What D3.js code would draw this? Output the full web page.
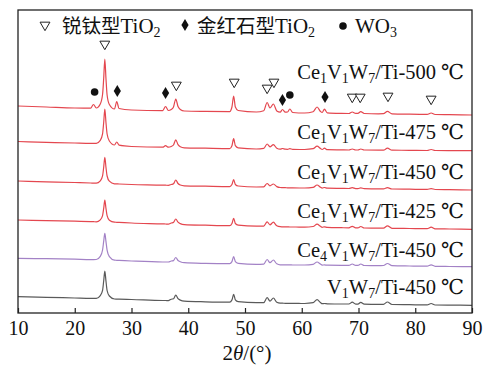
<!DOCTYPE html>
<html>
<head>
<meta charset="utf-8">
<script src="https://cdn.jsdelivr.net/npm/d3@7"></script>
<style>
  body { margin: 0; background: #fff; }
</style>
</head>
<body>
<div id="chart"></div>
<script>
// 2theta grid (degrees) where intensities were read
const twoTheta = [10, 15, 20, 22.8, 23.3, 23.8, 24.5, 24.9, 25.1, 25.3, 25.5, 25.7, 26.1, 27.0, 27.4, 27.8,
  30, 35.5, 36.0, 36.5, 37.0, 37.4, 37.8, 38.2, 38.6, 39.3, 43, 47.3, 47.7, 48.0, 48.3, 48.8,
  52, 53.3, 53.9, 54.4, 55.0, 55.6, 56.2, 56.6, 57.1, 57.5, 57.9, 58.4, 60.5, 62.0, 62.7, 63.3,
  63.6, 64.0, 64.5, 67, 68.3, 68.9, 69.5, 69.9, 70.4, 71.0, 73.5, 74.4, 75.1, 75.9, 79, 82.1,
  82.8, 83.5, 86, 90]

// stacked intensities (a.u.)
const ce1_500 = [207, 206, 205, 204.8, 208.5, 205, 209, 218.5, 234.5, 254, 234.5, 218, 208.5, 204, 211.5, 204.5,
  203, 202.4, 206.5, 202.5, 203.5, 206, 214, 206.5, 203.5, 202, 201.6, 201.4, 206, 217, 206, 202.5,
  201, 202.3, 210.5, 205, 209, 202, 200.8, 203.5, 200.8, 201, 204, 200.5, 200, 201.3, 206, 201.5,
  200.5, 203.8, 200.1, 199.6, 199.5, 201, 199.6, 199.6, 201.4, 199.5, 199.2, 199.3, 201.6, 199.2, 198.8, 198.6,
  200, 198.5, 198.3, 198]
const ce1_475 = [171.5, 170.7, 170, 169.7, 169.7, 169.7, 172.6, 179.2, 190.5, 204, 190.5, 179, 172, 168, 171, 167.8,
  166.5, 165.8, 167.3, 165.8, 166.5, 168, 173.2, 168.3, 166.3, 165.2, 164.8, 164.4, 167.3, 174.3, 167.3, 165.1,
  164, 164.6, 169, 166.2, 168.3, 164.8, 163.8, 164.5, 163.8, 163.7, 164.3, 163.6, 163.5, 164.3, 166.8, 164.5,
  163.5, 164.8, 163.3, 163.1, 163, 164, 163, 163, 164, 163, 162.9, 162.9, 164.8, 162.8, 162.7, 162.5,
  163.5, 162.5, 162.4, 162.3]
const ce1_450 = [132, 131.2, 130.5, 130, 129.9, 129.8, 132.1, 137.1, 145.7, 155.7, 145.7, 137, 131.8, 129.2, 129.1, 129,
  128.5, 127.9, 127.8, 127.7, 128.5, 129.3, 133, 129.5, 128, 127.2, 126.8, 126.4, 128.5, 133.5, 128.5, 127,
  126, 126.1, 129.5, 127.2, 129, 126.4, 125.5, 125.4, 125.3, 125.2, 125.2, 125.1, 125, 125.6, 128, 125.8,
  124.9, 125.5, 124.8, 124.6, 124.5, 125.3, 124.4, 124.4, 125.2, 124.3, 124.1, 124.1, 125.3, 124, 123.8, 123.6,
  124.4, 123.5, 123.3, 123]
const ce1_425 = [93, 92.4, 91.8, 91.4, 91.3, 91.2, 93.2, 97.4, 104.6, 113, 104.6, 97.3, 92.8, 90.8, 90.7, 90.6,
  90, 89.1, 89, 88.9, 90, 90.6, 94, 90.8, 89.4, 88.4, 87.8, 87.3, 89.5, 94.7, 89.5, 87.8,
  86.8, 86.9, 91.2, 88.2, 90.8, 87.2, 86.3, 86.2, 86.1, 86.1, 86, 86, 85.9, 86.5, 88.8, 86.7,
  85.7, 86.2, 85.6, 85.3, 85.2, 86.7, 85.1, 85.1, 86.5, 85, 84.8, 84.9, 87.2, 84.7, 84.5, 84.3,
  85.8, 84.2, 84, 83.7]
const ce4_450 = [54.7, 54.3, 53.8, 53.4, 53.4, 53.5, 56.6, 63, 71.6, 79.7, 71.6, 62.8, 56.3, 52.8, 52.7, 52.6,
  52, 51, 51, 51, 52, 52.4, 55.5, 52.5, 51.3, 50.3, 49.6, 49.3, 51.4, 56.5, 51.4, 49.7,
  48.6, 48.8, 53.5, 50.3, 53, 49.2, 48.2, 48.2, 48.1, 48.1, 48.1, 48, 48, 48.7, 51, 48.9,
  47.9, 48.1, 47.8, 47.7, 47.7, 49, 47.6, 47.6, 49, 47.5, 47.3, 47.5, 49.5, 47.3, 47, 46.8,
  48.2, 46.7, 46.5, 46.3]
const v1_450 = [16.3, 15.7, 15, 14.6, 14.6, 14.6, 17.4, 22.6, 32, 42, 32, 22.5, 17, 14, 13.9, 13.8,
  13.5, 12.5, 12.5, 12.4, 13.8, 14.2, 18, 14.4, 12.9, 11.8, 11.2, 10.9, 13.1, 18.6, 13.1, 11.3,
  10.3, 10.4, 15.3, 11.9, 15, 10.7, 9.8, 9.8, 9.7, 9.7, 9.6, 9.6, 9.5, 10.3, 13.3, 10.5,
  9.3, 9.5, 9.2, 9, 9, 10.8, 8.9, 8.9, 10.7, 8.8, 8.6, 8.7, 11, 8.5, 8.3, 8.1,
  9.5, 8, 7.9, 7.7]

const seriesValues = [ce1_500, ce1_475, ce1_450, ce1_425, ce4_450, v1_450]
const seriesColors = ["#e4474f", "#e4474f", "#e4474f", "#e4474f", "#a382c6", "#5a5a5a"]
// label parts: [text, isSubscript]
const seriesLabels = [
  [["Ce", 0], ["1", 1], ["V", 0], ["1", 1], ["W", 0], ["7", 1], ["/Ti-500 ℃", 0]],
  [["Ce", 0], ["1", 1], ["V", 0], ["1", 1], ["W", 0], ["7", 1], ["/Ti-475 ℃", 0]],
  [["Ce", 0], ["1", 1], ["V", 0], ["1", 1], ["W", 0], ["7", 1], ["/Ti-450 ℃", 0]],
  [["Ce", 0], ["1", 1], ["V", 0], ["1", 1], ["W", 0], ["7", 1], ["/Ti-425 ℃", 0]],
  [["Ce", 0], ["4", 1], ["V", 0], ["1", 1], ["W", 0], ["7", 1], ["/Ti-450 ℃", 0]],
  [["V", 0], ["1", 1], ["W", 0], ["7", 1], ["/Ti-450 ℃", 0]]
]
const labelLevels = [234, 174, 134, 95, 56, 19]

// phase markers [2theta, intensity]
const anataseMarks = [[25.3, 269], [37.9, 228], [48.1, 231], [53.9, 225], [55.1, 231], [68.9, 216], [70.3, 216], [75.2, 217], [82.8, 214]]
const rutileMarks = [[27.5, 222], [36.0, 220], [56.6, 213], [64.1, 216]]
const wo3Marks = [[23.5, 221], [57.9, 218]]

const xTicks = [10, 20, 30, 40, 50, 60, 70, 80, 90]

const serif = "'Liberation Serif', 'Times New Roman', 'DejaVu Serif', serif"
const cjk = "'Noto Sans CJK SC', 'Noto Sans CJK JP', sans-serif"

const dimensions = {
  width: 483,
  height: 365,
  margin: { top: 10, right: 11, bottom: 52, left: 18 },
}
dimensions.boundedWidth = dimensions.width - dimensions.margin.left - dimensions.margin.right
dimensions.boundedHeight = dimensions.height - dimensions.margin.top - dimensions.margin.bottom

const svg = d3.select("#chart")
  .append("svg")
    .attr("width", dimensions.width)
    .attr("height", dimensions.height)
    .style("font-family", serif)

const bounds = svg.append("g")
  .attr("transform", `translate(${dimensions.margin.left},${dimensions.margin.top})`)

const xScale = d3.scaleLinear()
  .domain([10, 90])
  .range([0, dimensions.boundedWidth])

const yScale = d3.scaleLinear()
  .domain([0, dimensions.boundedHeight])
  .range([dimensions.boundedHeight, 0])

const lineGen = d3.line()
  .x((d, i) => xScale(twoTheta[i]))
  .y(d => yScale(d))
  .curve(d3.curveMonotoneX)

// curves
bounds.selectAll(".xrd")
  .data(seriesValues)
  .join("path")
    .attr("class", "xrd")
    .attr("d", d => lineGen(d))
    .attr("fill", "none")
    .attr("stroke", (d, i) => seriesColors[i])
    .attr("stroke-width", 1.2)
    .attr("stroke-linejoin", "round")

// series labels
const labels = bounds.selectAll(".series-label")
  .data(seriesLabels)
  .join("text")
    .attr("class", "series-label")
    .attr("x", xScale(88.6))
    .attr("y", (d, i) => yScale(labelLevels[i]))
    .attr("text-anchor", "end")
    .style("font-family", serif)
    .style("font-size", "20.5px")
    .attr("fill", "#111")
labels.each(function(parts) {
  const t = d3.select(this)
  let prevSub = false
  parts.forEach(p => {
    const ts = t.append("tspan").text(p[0])
    if (p[1]) {
      ts.style("font-size", "14px").attr("dy", 4)
      prevSub = true
    } else if (prevSub) {
      ts.attr("dy", -4)
      prevSub = false
    }
  })
})

// markers
const triangle = d3.symbol().type(d3.symbolTriangle).size(42)
bounds.selectAll(".ana")
  .data(anataseMarks)
  .join("path")
    .attr("class", "ana")
    .attr("d", triangle)
    .attr("transform", d => `translate(${xScale(d[0])},${yScale(d[1])}) rotate(180)`)
    .attr("fill", "white")
    .attr("stroke", "#222")
    .attr("stroke-width", 1)

const diamond = "M0,-6L3.6,0L0,6L-3.6,0Z"
bounds.selectAll(".rut")
  .data(rutileMarks)
  .join("path")
    .attr("class", "rut")
    .attr("d", diamond)
    .attr("transform", d => `translate(${xScale(d[0])},${yScale(d[1])})`)
    .attr("fill", "#111")

bounds.selectAll(".wo3")
  .data(wo3Marks)
  .join("circle")
    .attr("class", "wo3")
    .attr("cx", d => xScale(d[0]))
    .attr("cy", d => yScale(d[1]))
    .attr("r", 3.8)
    .attr("fill", "#111")

// legend (in plot coordinates)
const legend = bounds.append("g")
legend.append("path")
  .attr("d", triangle)
  .attr("transform", "translate(27,15) rotate(180)")
  .attr("fill", "white").attr("stroke", "#222")
legend.append("path")
  .attr("d", diamond)
  .attr("transform", "translate(167,15)")
  .attr("fill", "#111")
legend.append("circle")
  .attr("cx", 325).attr("cy", 16).attr("r", 3.8)
  .attr("fill", "#111")

function legendText(x, parts) {
  const t = legend.append("text")
    .attr("x", x).attr("y", 23)
    .style("font-family", serif)
    .style("font-size", "21px")
    .attr("fill", "#111")
  parts.forEach(p => {
    const ts = t.append("tspan").text(p[0])
    if (p[1] === "cjk") ts.style("font-family", cjk).style("font-size", "19.5px")
    if (p[1] === "sub") ts.style("font-size", "14px").attr("dy", 4)
  })
}
legendText(44, [["锐钛型", "cjk"], ["TiO", ""], ["2", "sub"]])
legendText(179, [["金红石型", "cjk"], ["TiO", ""], ["2", "sub"]])
legendText(337, [["WO", ""], ["3", "sub"]])

// frame
bounds.append("rect")
  .attr("width", dimensions.boundedWidth)
  .attr("height", dimensions.boundedHeight)
  .attr("fill", "none")
  .attr("stroke", "#222")
  .attr("stroke-width", 1.3)

// x axis
const xAxis = d3.axisBottom(xScale)
  .tickValues(xTicks)
  .tickSizeInner(-5)
  .tickSizeOuter(0)
  .tickPadding(8)

const xAxisGroup = bounds.append("g")
  .attr("transform", `translate(0,${dimensions.boundedHeight})`)
  .call(xAxis)
  .attr("font-family", null)
  .attr("font-size", null)
xAxisGroup.select(".domain").remove()
xAxisGroup.selectAll("line").attr("stroke", "#222").attr("stroke-width", 1.2)
xAxisGroup.selectAll("text")
  .style("font-size", "20px")
  .style("font-family", serif)
  .attr("fill", "#111")

const xTitle = svg.append("text")
  .attr("x", dimensions.margin.left + dimensions.boundedWidth / 2 + 2)
  .attr("y", 360)
  .attr("text-anchor", "middle")
  .style("font-family", serif)
  .style("font-size", "21px")
  .attr("fill", "#111")
xTitle.append("tspan").text("2")
xTitle.append("tspan").text("θ").style("font-style", "italic")
xTitle.append("tspan").text("/(°)")
</script>
</body>
</html>
